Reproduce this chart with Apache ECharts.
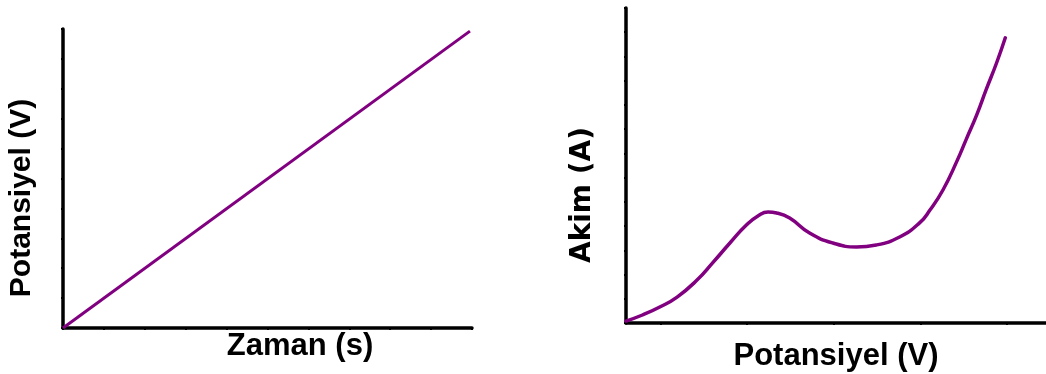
<!DOCTYPE html>
<html>
<head>
<meta charset="utf-8">
<script src="https://cdn.jsdelivr.net/npm/echarts@6/dist/echarts.min.js"></script>
<style>
  html, body { margin: 0; padding: 0; background: #fff; }
  #chart { width: 1046px; height: 374px; }
</style>
</head>
<body>
<div id="chart"></div>
<script>
// Potential ramp: potential rises linearly with time
const rampTime = [0, 9.95];
const rampPotential = [0, 9.93];

// Current response over potential (peak, dip, then steep rise)
const sweepPotential = [-0.40, -0.21, -0.01, 0.19, 0.42, 0.60, 0.80, 0.99, 1.14, 1.24, 1.34, 1.49, 1.72, 1.99, 2.26, 2.49, 2.76, 2.99, 3.11, 3.26, 3.42, 3.53, 3.65, 3.76, 3.88, 3.98];
const sweepCurrent   = [0.08, 0.33, 0.66, 1.07, 1.77, 2.48, 3.30, 4.04, 4.46, 4.58, 4.54, 4.33, 3.71, 3.30, 3.14, 3.22, 3.55, 4.13, 4.66, 5.49, 6.67, 7.59, 8.59, 9.64, 10.74, 11.77];

// Axis titles
const leftXTitle = 'Zaman (s)';
const leftYTitle = 'Potansiyel (V)';
const rightXTitle = 'Potansiyel (V)';
const rightYTitle = 'Akim (A)';

// Tick positions on the current-response potential axis
const sweepTicks = [0, 1, 2, 3, 4];

const purple = '#800080';
const axisBase = {
  axisLine: { show: true, onZero: false, lineStyle: { color: '#000', width: 3.5 } },
  axisTick: { show: true, length: 2, inside: false, lineStyle: { color: '#000', width: 2 } },
  axisLabel: { show: false },
  splitLine: { show: false }
};

const chart = echarts.init(document.getElementById('chart'), null, { renderer: 'canvas' });

chart.setOption({
  animation: false,
  backgroundColor: '#fff',
  grid: [
    { left: 63, top: 29, width: 409, height: 299 },
    { left: 626, top: 8, width: 420, height: 315 }
  ],
  xAxis: [
    Object.assign({ type: 'value', gridIndex: 0, min: 0, max: 10, interval: 1 }, axisBase),
    Object.assign({ type: 'value', gridIndex: 1, min: -0.4, max: 4.45 }, axisBase, {
      axisTick: { show: true, length: 2, customValues: sweepTicks, lineStyle: { color: '#000', width: 2 } }
    })
  ],
  yAxis: [
    Object.assign({ type: 'value', gridIndex: 0, min: 0, max: 10, interval: 1 }, axisBase),
    Object.assign({ type: 'value', gridIndex: 1, min: 0, max: 13, interval: 1 }, axisBase)
  ],
  series: [
    {
      type: 'line', xAxisIndex: 0, yAxisIndex: 0,
      data: rampTime.map((t, i) => [t, rampPotential[i]]),
      showSymbol: false,
      lineStyle: { color: purple, width: 3 }
    },
    {
      type: 'line', xAxisIndex: 1, yAxisIndex: 1,
      data: sweepPotential.map((v, i) => [v, sweepCurrent[i]]),
      smooth: 0.5,
      showSymbol: false,
      lineStyle: { color: purple, width: 3.5, cap: 'round' }
    }
  ],
  graphic: [
    {
      type: 'text', x: 300, y: 346,
      style: { text: leftXTitle, font: 'bold 31px "Liberation Sans", Arial, sans-serif', fill: '#000', textAlign: 'center', textVerticalAlign: 'middle' }
    },
    {
      type: 'text', x: 22, y: 198, rotation: Math.PI / 2,
      style: { text: leftYTitle, font: 'bold 30px "Liberation Sans", Arial, sans-serif', fill: '#000', textAlign: 'center', textVerticalAlign: 'middle' }
    },
    {
      type: 'text', x: 836, y: 356,
      style: { text: rightXTitle, font: 'bold 31px "Liberation Sans", Arial, sans-serif', fill: '#000', textAlign: 'center', textVerticalAlign: 'middle' }
    },
    {
      type: 'text', x: 583, y: 195, rotation: Math.PI / 2,
      style: { text: rightYTitle, font: 'bold 28px "DejaVu Sans", sans-serif', fill: '#000', textAlign: 'center', textVerticalAlign: 'middle' }
    }
  ]
});
</script>
</body>
</html>
